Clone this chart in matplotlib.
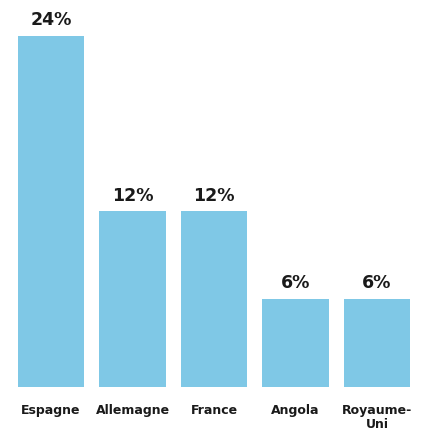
import matplotlib
matplotlib.use("Agg")
import matplotlib.pyplot as plt

categories = ["Espagne", "Allemagne", "France", "Angola", "Royaume-\nUni"]
values = [24, 12, 12, 6, 6]
value_labels = ["24%", "12%", "12%", "6%", "6%"]

BAR_COLOR = "#7fc8e6"
TEXT_COLOR = "#1a1a1a"

fig = plt.figure(figsize=(4.25, 4.32), dpi=100)
ax = fig.add_axes([0, 45 / 432, 1, 387 / 432])

x = list(range(len(categories)))
bars = ax.bar(x, values, width=0.81, color=BAR_COLOR)

ax.set_xlim(-51 / 81.5, (425 - 51) / 81.5)
ax.set_ylim(0, 387 / 14.625)

for bar, lab in zip(bars, value_labels):
    ax.annotate(lab, (bar.get_x() + bar.get_width() / 2, bar.get_height()),
                xytext=(0, 5), textcoords="offset points",
                ha="center", va="bottom", fontsize=12.5, fontweight="bold",
                color=TEXT_COLOR, family="DejaVu Sans")

for xi, cat in zip(x, categories):
    ax.annotate(cat, (xi, 0), xytext=(0, -12), textcoords="offset points",
                ha="center", va="top", fontsize=9, fontweight="bold",
                color=TEXT_COLOR, family="DejaVu Sans", linespacing=1.1)

ax.axis("off")
fig.savefig("out.png", dpi=100)
